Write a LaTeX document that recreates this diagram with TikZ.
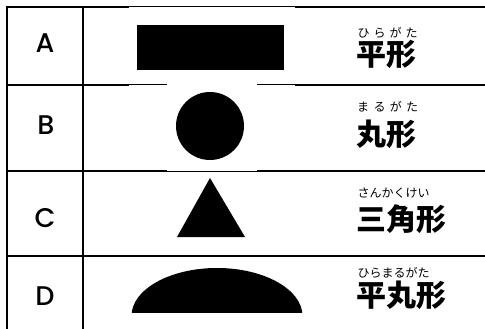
\documentclass[tikz,border=0pt]{standalone}
\usepackage{fontspec}
\newfontfamily\jpfont{Noto Sans CJK JP}
\newfontfamily\latinfont{Poppins}[UprightFont=* Medium]
\begin{document}
\begin{tikzpicture}[x=1pt,y=-1pt,
  grid/.style={line width=2pt},
  thingrid/.style={line width=1pt},
  letter/.style={font=\latinfont\fontsize{27}{27}\selectfont, inner sep=0pt},
  kanji/.style={font=\jpfont\bfseries\fontsize{30}{30}\selectfont, inner sep=0pt, anchor=base west},
  ruby/.style={font=\jpfont\fontsize{12}{12}\selectfont, inner sep=0pt, anchor=base west}]
\useasboundingbox (0,0) rectangle (485,329);
% vertical rules
\draw[grid] (7,6) -- (7,329);
\draw[grid] (83,6) -- (83,329);
% top rule
\draw[grid] (6,7) -- (129,7);
\draw[thingrid] (129,7) -- (295,7);
\draw[grid] (295,7) -- (485,7);
% rule A/B
\draw[grid] (6,85) -- (129,85);
\draw[thingrid] (129,85) -- (167,85);
\draw[thingrid] (257,85) -- (295,85);
\draw[grid] (295,85) -- (485,85);
% rule B/C
\draw[grid] (6,171) -- (167,171);
\draw[thingrid] (167,171) -- (257,171);
\draw[grid] (257,171) -- (485,171);
% rule C/D
\draw[grid] (6,256) -- (485,256);
% shapes
\fill (137,25) rectangle (284,70);
\fill (210,126) circle [radius=34pt];
\fill (210,178) -- (245,237) -- (177,237) -- cycle;
\begin{scope}
  \clip (100,250) rectangle (330,312);
  \fill (217,316) ellipse [x radius=85.5pt, y radius=48pt];
\end{scope}
% letters
\node[letter] (la) at (45,43) {A};
\node[letter] (lb) at (46,125) {B};
\node[letter] (lc) at (45,218) {C};
\node[letter] (ld) at (45,296) {D};
% ruby
\node[ruby] (ra) at (357.5,38) {\hbox to 60pt{ひ\hfil ら\hfil が\hfil た}};
\node[ruby] (rb) at (357,111) {\hbox to 61pt{ま\hfil る\hfil が\hfil た}};
\node[ruby] (rc) at (357.5,197) {さんかくけい};
\node[ruby] (rd) at (357.5,277) {ひらまるがた};
% kanji
\node[kanji] (ka) at (356.5,66) {平形};
\node[kanji] (kb) at (356.5,145) {丸形};
\node[kanji] (kc) at (356.5,230) {三角形};
\node[kanji] (kd) at (356.5,306) {平丸形};
\end{tikzpicture}
\end{document}
